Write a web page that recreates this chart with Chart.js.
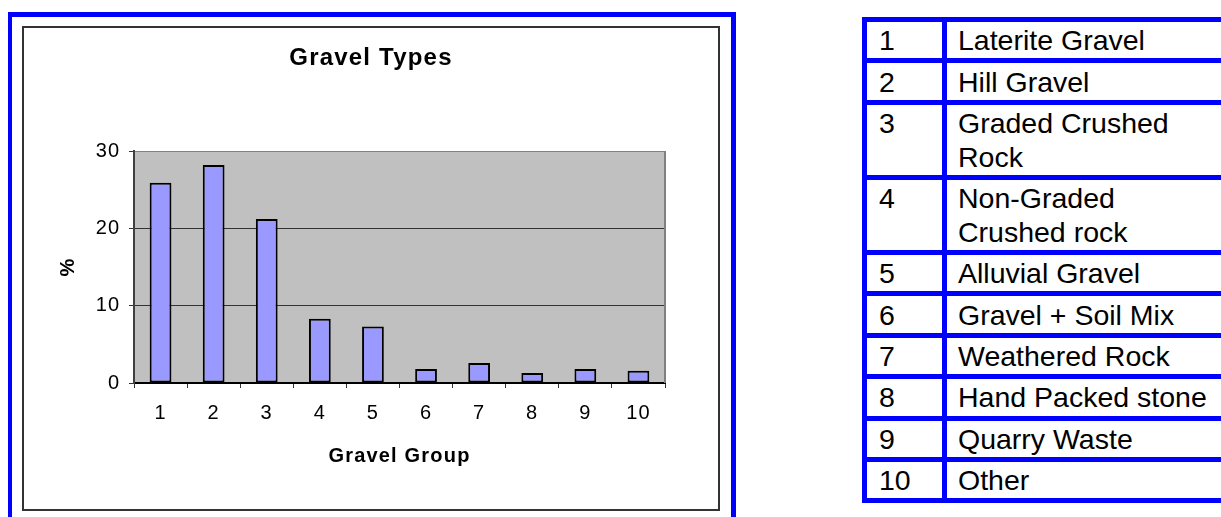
<!DOCTYPE html>
<html>
<head>
<meta charset="utf-8">
<script src="https://cdn.jsdelivr.net/npm/chart.js@4/dist/chart.umd.min.js"></script>
<style>
  html, body { margin:0; padding:0; background:#fff; width:1221px; height:517px; overflow:hidden; }
  #frame { position:absolute; left:8px; top:12px; width:728px; height:600px; box-sizing:border-box;
           border-style:solid; border-color:#0000FF; border-width:5px 5px 0 4px; }
  #box { position:absolute; left:22px; top:26px; width:698px; height:485px; box-sizing:border-box;
         border:2px solid #333; background:#fff; }
  #box canvas { display:block; }
  #legendTable { position:absolute; left:862px; top:17px; width:700px; table-layout:fixed;
                 border-collapse:separate; border-spacing:0;
                 font-family:'Liberation Sans', Arial, sans-serif; font-size:28.5px; line-height:33.7px; color:#000; }
  #legendTable td { box-sizing:border-box; border-top:5px solid #0000FF; border-left:5px solid #0000FF;
                    padding:2.2px 0 0.5px 12px; vertical-align:top; white-space:nowrap; overflow:hidden; }
  #legendTable tr:last-child td { border-bottom:5px solid #0000FF; }
  #legendTable td.num { width:80px; }
  #legendTable td.name { width:620px; padding-left:11px; }
</style>
</head>
<body>
<div id="frame"></div>
<div id="box"><canvas id="chart" width="694" height="481"></canvas></div>
<table id="legendTable"><tbody id="legendBody"></tbody></table>
<script>
const categories = ['1','2','3','4','5','6','7','8','9','10'];
const percentValues = [25.9, 28.2, 21.2, 8.3, 7.3, 1.8, 2.6, 1.3, 1.8, 1.6];
const yMin = 0, yMax = 30, yStep = 10;
const chartTitle = 'Gravel Types';
const xTitle = 'Gravel Group';
const yTitle = '%';
const groupNumbers = ['1','2','3','4','5','6','7','8','9','10'];
const groupNames = [
  ['Laterite Gravel'],
  ['Hill Gravel'],
  ['Graded Crushed','Rock'],
  ['Non-Graded','Crushed rock'],
  ['Alluvial Gravel'],
  ['Gravel + Soil Mix'],
  ['Weathered Rock'],
  ['Hand Packed stone'],
  ['Quarry Waste'],
  ['Other']
];

// legend table
const tbody = document.getElementById('legendBody');
groupNumbers.forEach((n, i) => {
  const tr = document.createElement('tr');
  const td1 = document.createElement('td'); td1.className = 'num'; td1.textContent = n;
  const td2 = document.createElement('td'); td2.className = 'name';
  groupNames[i].forEach((line, j) => {
    if (j > 0) td2.appendChild(document.createElement('br'));
    td2.appendChild(document.createTextNode(line));
  });
  tr.appendChild(td1); tr.appendChild(td2); tbody.appendChild(tr);
});

Chart.defaults.font.family = "'Liberation Sans', Arial, sans-serif";
Chart.defaults.color = '#000';

const plotBg = {
  id: 'plotBg',
  beforeDraw(chart) {
    chart.ctx.letterSpacing = '1.2px';
    const {ctx, chartArea:a} = chart;
    ctx.save();
    ctx.fillStyle = '#C0C0C0';
    ctx.fillRect(a.left, a.top, a.right - a.left, a.bottom - a.top);
    ctx.restore();
  },
  beforeDatasetsDraw(chart) {
    const {ctx, chartArea:a} = chart;
    ctx.save();
    ctx.strokeStyle = '#808080';
    ctx.lineWidth = 2;
    ctx.beginPath();
    ctx.moveTo(a.right, a.top);
    ctx.lineTo(a.right, a.bottom);
    ctx.stroke();
    ctx.restore();
  }
};

new Chart(document.getElementById('chart'), {
  type: 'bar',
  data: {
    labels: categories,
    datasets: [{
      data: percentValues,
      backgroundColor: '#9999FF',
      borderColor: '#000',
      borderWidth: 2,
      borderSkipped: false,
      barPercentage: 0.41,
      categoryPercentage: 1
    }]
  },
  options: {
    responsive: false,
    animation: false,
    events: [],
    layout: { padding: 0 },
    plugins: {
      legend: { display: false },
      tooltip: { enabled: false },
      title: {
        display: true, text: chartTitle, color: '#000',
        font: { size: 24, weight: 'bold' },
        padding: { top: 16, bottom: 78.2 }
      }
    },
    scales: {
      x: {
        afterFit(s) { s.height = 126; },
        grid: { display: true, drawOnChartArea: false, drawTicks: true, tickLength: 5,
                tickColor: '#333', lineWidth: 1, offset: true },
        border: { display: true, color: '#000', width: 2 },
        ticks: { font: { size: 20 }, color: '#000', padding: 13.7, maxRotation: 0 },
        title: { display: true, text: xTitle, color: '#000', font: { size: 20, weight: 'bold' },
                 padding: { top: 0, bottom: 40.3 } }
      },
      y: {
        min: yMin, max: yMax,
        afterFit(s) { s.width = 110; },
        grid: {
          color: (c) => (c.tick && c.tick.value === yMax) ? '#808080' : '#333',
          lineWidth: 1, tickLength: 5, tickColor: '#333'
        },
        border: { display: true, color: '#404040', width: 2 },
        ticks: { stepSize: yStep, font: { size: 20 }, color: '#000', padding: 8.7 },
        title: { display: true, text: yTitle, color: '#000', font: { size: 20, weight: 'bold' },
                 padding: { top: 32, bottom: 0 } }
      },
      yRightSpace: {
        type: 'linear', position: 'right', display: true,
        min: yMin, max: yMax,
        afterFit(s) { s.width = 53; },
        grid: { display: false },
        border: { display: false },
        ticks: { display: false }
      }
    }
  },
  plugins: [plotBg]
});
</script>
</body>
</html>
